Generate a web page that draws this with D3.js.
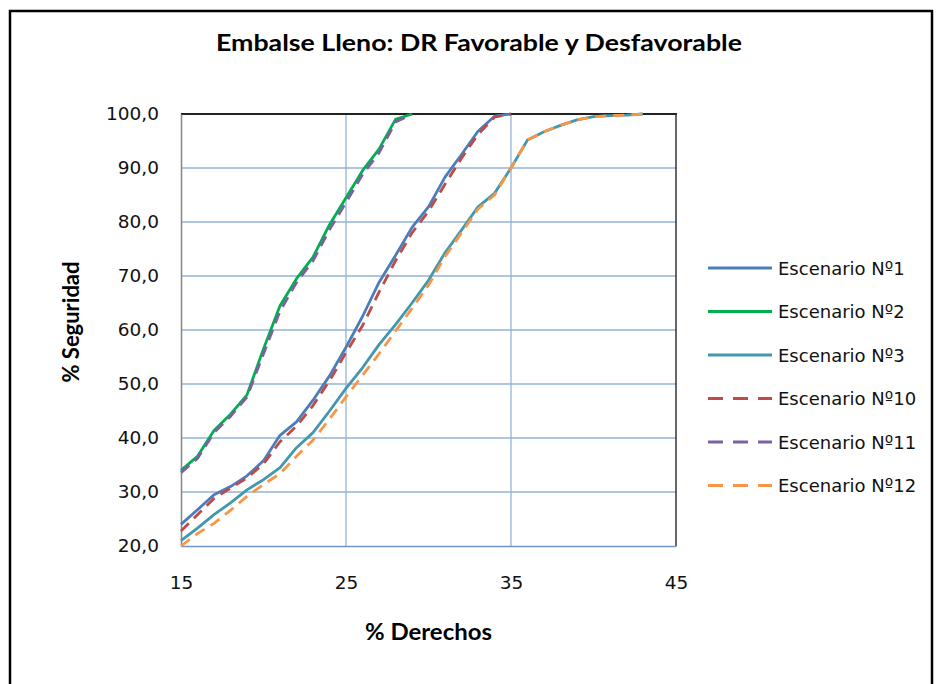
<!DOCTYPE html>
<html>
<head>
<meta charset="utf-8">
<script src="https://cdn.jsdelivr.net/npm/d3@7"></script>
<style>
  html, body { margin: 0; padding: 0; background: #fff; }
  svg { display: block; }
</style>
</head>
<body>
<svg id="chart" width="938" height="684"></svg>
<script>
// % Derechos (x) for each scenario
const derechos1 = d3.range(15, 36);   // 15..35
const derechos2 = d3.range(15, 30);   // 15..29
const derechos3 = d3.range(15, 44);   // 15..43

// % Seguridad (y) per scenario
const esc1  = [24.0, 26.7, 29.5, 31.0, 33.0, 35.8, 40.5, 43.0, 47.0, 51.5, 56.8, 62.5, 68.8, 73.8, 79.0, 82.8, 88.3, 92.5, 96.8, 99.6, 100];
const esc10 = [22.8, 25.8, 28.8, 30.7, 32.6, 35.2, 39.3, 42.2, 46.0, 50.6, 55.8, 60.8, 67.0, 72.8, 78.0, 82.0, 87.0, 91.8, 96.2, 99.4, 100];
const esc2  = [34.0, 36.6, 41.4, 44.4, 48.0, 56.5, 64.5, 69.5, 73.5, 79.5, 84.5, 89.5, 93.5, 99.0, 100];
const esc11 = [33.6, 36.2, 41.0, 44.0, 47.6, 55.6, 63.5, 68.8, 72.8, 78.6, 83.6, 88.8, 92.8, 98.5, 100];
const esc3  = [21.0, 23.3, 25.8, 28.0, 30.4, 32.3, 34.5, 38.2, 41.0, 45.0, 49.2, 53.0, 57.3, 61.0, 65.0, 69.2, 74.3, 78.5, 82.8, 85.3, 90.0, 95.2, 96.7, 97.9, 98.9, 99.5, 99.7, 99.8, 100];
const esc12 = [20.0, 22.3, 24.2, 26.6, 29.2, 31.4, 33.4, 36.6, 39.6, 43.5, 47.6, 51.6, 55.6, 59.8, 64.0, 68.3, 73.6, 78.0, 82.4, 85.0, 90.0, 95.2, 96.7, 97.9, 98.9, 99.5, 99.7, 99.8, 100];

const seriesNames = ["Escenario Nº1", "Escenario Nº2", "Escenario Nº3", "Escenario Nº10", "Escenario Nº11", "Escenario Nº12"];
const xTicks = [15, 25, 35, 45];
const yTicks = [20, 30, 40, 50, 60, 70, 80, 90, 100];

const titleText = "Embalse Lleno: DR Favorable y Desfavorable";
const xTitle = "% Derechos";
const yTitle = "% Seguridad";

const series = [
  { name: seriesNames[0], xs: derechos1, ys: esc1,  color: "#4A7EBB", dash: null },
  { name: seriesNames[1], xs: derechos2, ys: esc2,  color: "#00B050", dash: null },
  { name: seriesNames[2], xs: derechos3, ys: esc3,  color: "#4198AF", dash: null },
  { name: seriesNames[3], xs: derechos1, ys: esc10, color: "#BE4B48", dash: "11,7" },
  { name: seriesNames[4], xs: derechos2, ys: esc11, color: "#7D60A0", dash: "11,7" },
  { name: seriesNames[5], xs: derechos3, ys: esc12, color: "#F79646", dash: "11,7" }
];

const svg = d3.select("#chart");
const plot = { left: 181, right: 676, top: 114, bottom: 546 };

const x = d3.scaleLinear().domain([15, 45]).range([plot.left, plot.right]);
const y = d3.scaleLinear().domain([20, 100]).range([plot.bottom, plot.top]);

// outer chart frame
svg.append("path")
  .attr("d", "M10,700 L10,11 L932,11 L932,700")
  .attr("fill", "none").attr("stroke", "#000").attr("stroke-width", 2.5);

// title
svg.append("text")
  .attr("x", 479).attr("y", 51)
  .attr("text-anchor", "middle")
  .attr("font-family", "Lato, 'Open Sans', sans-serif")
  .attr("font-weight", "bold").attr("font-size", 22)
  .attr("textLength", 526).attr("lengthAdjust", "spacingAndGlyphs")
  .attr("fill", "#000")
  .text(titleText);

// gridlines
const grid = svg.append("g").attr("stroke", "#95B3D7").attr("stroke-width", 1.3);
grid.selectAll("line.h").data(yTicks.filter(v => v > 20 && v < 100)).join("line")
  .attr("x1", plot.left).attr("x2", plot.right)
  .attr("y1", d => y(d)).attr("y2", d => y(d));
grid.selectAll("line.v").data(xTicks.filter(v => v > 15 && v < 45)).join("line")
  .attr("y1", plot.top).attr("y2", plot.bottom)
  .attr("x1", d => x(d)).attr("x2", d => x(d));

// plot frame: top and right dark, left axis grey, bottom axis blue
svg.append("line").attr("x1", plot.left).attr("x2", plot.right + 1).attr("y1", plot.top).attr("y2", plot.top)
  .attr("stroke", "#222").attr("stroke-width", 2);
svg.append("line").attr("x1", plot.right).attr("x2", plot.right).attr("y1", plot.top).attr("y2", plot.bottom)
  .attr("stroke", "#333").attr("stroke-width", 1.5);

// axes
const yAxis = d3.axisLeft(y).tickValues(yTicks).tickSize(0).tickPadding(22)
  .tickFormat(d => d3.format(".1f")(d).replace(".", ","));
const xAxis = d3.axisBottom(x).tickValues(xTicks).tickSize(0).tickPadding(30)
  .tickFormat(d3.format("d"));

const gy = svg.append("g").attr("transform", `translate(${plot.left},0)`).call(yAxis);
gy.select(".domain").attr("stroke", "#868686").attr("stroke-width", 1.5);
gy.selectAll("text").attr("font-family", "'DejaVu Sans', sans-serif").attr("font-size", 18.5).attr("fill", "#111");

const gx = svg.append("g").attr("transform", `translate(0,${plot.bottom})`).call(xAxis);
gx.select(".domain").attr("stroke", "#6E94CC").attr("stroke-width", 1.5);
gx.selectAll("text").attr("font-family", "'DejaVu Sans', sans-serif").attr("font-size", 18.5).attr("fill", "#111");

// axis titles
svg.append("text")
  .attr("x", (plot.left + plot.right) / 2).attr("y", 640)
  .attr("text-anchor", "middle")
  .attr("font-family", "Lato, sans-serif").attr("font-weight", "bold").attr("font-size", 22)
  .attr("textLength", 127).attr("lengthAdjust", "spacingAndGlyphs")
  .text(xTitle);
svg.append("text")
  .attr("transform", "translate(79,322) rotate(-90)")
  .attr("text-anchor", "middle")
  .attr("font-family", "Lato, sans-serif").attr("font-weight", "bold").attr("font-size", 22)
  .attr("textLength", 121).attr("lengthAdjust", "spacingAndGlyphs")
  .text(yTitle);

// series lines
const line = d3.line().x(d => x(d[0])).y(d => y(d[1]));
svg.append("g").selectAll("path").data(series).join("path")
  .attr("d", s => line(s.xs.map((v, i) => [v, s.ys[i]])))
  .attr("fill", "none")
  .attr("stroke", s => s.color)
  .attr("stroke-width", 2.8)
  .attr("stroke-linejoin", "round")
  .attr("stroke-dasharray", s => s.dash);

// legend
const legend = svg.append("g").selectAll("g").data(series).join("g")
  .attr("transform", (s, i) => `translate(708,${268 + i * 43.5})`);
legend.append("line")
  .attr("x1", 0).attr("x2", 64).attr("y1", 0).attr("y2", 0)
  .attr("stroke", s => s.color).attr("stroke-width", 2.8)
  .attr("stroke-dasharray", s => s.dash ? "15,10" : null);
legend.append("text")
  .attr("x", 70).attr("y", 6.5)
  .attr("font-family", "'DejaVu Sans', sans-serif").attr("font-size", 18).attr("fill", "#111")
  .text(s => s.name);
</script>
</body>
</html>
